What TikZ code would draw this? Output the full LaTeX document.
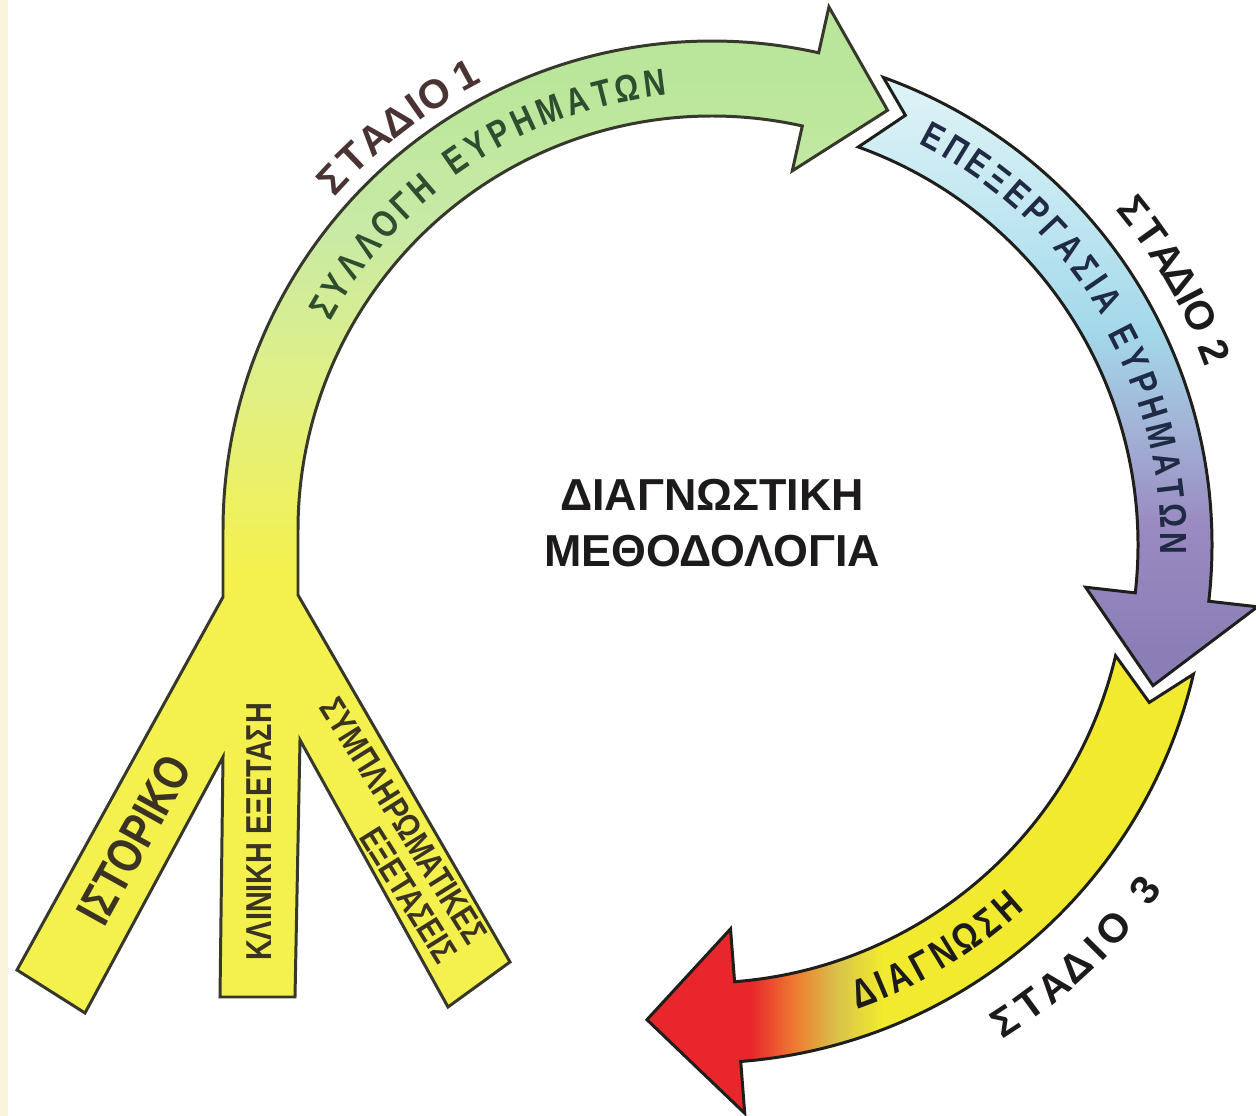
\documentclass[tikz,border=0pt]{standalone}
\usepackage{fontspec}
\setmainfont{Liberation Sans}
\newfontfamily\narrowsf[FakeStretch=0.8]{Liberation Sans}
\usepackage{tikz}
\usetikzlibrary{calc,positioning,shapes,arrows}

% colours
\definecolor{paper}{HTML}{FBF4DC}
\definecolor{outline}{HTML}{1E1E1A}
\definecolor{forkline}{HTML}{35382A}
\definecolor{fyellow}{HTML}{F4F14E}
\definecolor{fyelgreen}{HTML}{E2F082}
\definecolor{fgreen}{HTML}{C8EAA6}
\definecolor{fgreenhead}{HTML}{B9E69A}
\definecolor{bcyan}{HTML}{E0F3F6}
\definecolor{bice}{HTML}{C4E8F2}
\definecolor{bsky}{HTML}{A3D8EA}
\definecolor{bgrey}{HTML}{A2B2D6}
\definecolor{blav}{HTML}{9A8CC2}
\definecolor{bpurple}{HTML}{8B7DB6}
\definecolor{rred}{HTML}{E8262C}
\definecolor{rorange}{HTML}{EE7A32}
\definecolor{rkhaki}{HTML}{D8C44A}
\definecolor{ryellow}{HTML}{F1EA2E}
\definecolor{stagebrown}{HTML}{4A3333}
\definecolor{greentxt}{HTML}{2F4D2F}
\definecolor{navytxt}{HTML}{1F2A44}
\definecolor{blacktxt}{HTML}{1C1A1A}
\definecolor{forktxt}{HTML}{3B3322}

% fades along the three arrows
\pgfdeclareverticalshading{greenfade}{100bp}{color(0bp)=(fyellow); color(47bp)=(fyellow); color(55.5bp)=(fyelgreen); color(64bp)=(fgreen); color(72bp)=(fgreenhead); color(100bp)=(fgreenhead)}
\pgfdeclareverticalshading{bluefade}{100bp}{color(0bp)=(bpurple); color(28bp)=(bpurple); color(38.6bp)=(blav); color(46bp)=(bgrey); color(54bp)=(bsky); color(65bp)=(bice); color(75bp)=(bcyan); color(100bp)=(bcyan)}
\pgfdeclarehorizontalshading{redfade}{100bp}{color(0bp)=(rred); color(34.5bp)=(rred); color(38.5bp)=(rorange); color(42.5bp)=(rkhaki); color(46.5bp)=(ryellow); color(100bp)=(ryellow)}

\tikzset{
  arrowband/.style={line width=1.7pt, draw=outline, line join=miter, shade},
  stagetxt/.style={inner sep=0pt, font=\bfseries\fontsize{23}{27}\selectfont},
  bandtxt/.style={inner sep=0pt, font=\narrowsf\bfseries\fontsize{21.5}{25}\selectfont},
  forklbl/.style={inner sep=0pt, text=forktxt},
}

\begin{document}
\begin{tikzpicture}[x=0.2mm, y=0.2mm]
\fill[white] (0,0) rectangle (1256,1116);
\fill[paper] (0,0) rectangle (8,1116);
\useasboundingbox (0,0) rectangle (1256,1116);

% centres of the three arcs
\coordinate (C1) at (712,586);
\coordinate (C2) at (715,571);
\coordinate (C3) at (702,558);

% stage 1 arrow with its three roots
\draw[arrowband, draw=forkline, shading=greenfade] (223,519) -- (223,586)
  arc[start angle=180, end angle=77.4, radius=489]
  -- ([shift={(77.4:536)}]C1) -- ([shift={(67.3:455)}]C1)
  -- ([shift={(77.4:368)}]C1) -- ([shift={(77.4:414)}]C1)
  arc[start angle=77.4, end angle=180, radius=414]
  -- (298,521) -- (510,154) -- (448,109) -- (300,376) -- (295,119)
  -- (220,119) -- (223,359) -- (85,103) -- (17,146) -- cycle;

% stage 2 arrow
\draw[arrowband, shading=bluefade] ([shift={(70.2:497)}]C2)
  arc[start angle=70.2, end angle=-6.5, radius=497]
  -- ([shift={(-6.5:546)}]C2) -- ([shift={(-17.8:460)}]C2)
  -- ([shift={(-6.5:373)}]C2) -- ([shift={(-6.5:423)}]C2)
  arc[start angle=-6.5, end angle=70.2, radius=423]
  -- ([shift={(66.1:470)}]C2) -- cycle;

% stage 3 arrow
\draw[arrowband, shading=redfade] ([shift={(-13.3:505)}]C3)
  arc[start angle=-13.3, end angle=-85.6, radius=505]
  -- ([shift={(-85.6:557)}]C3) -- ([shift={(-96.8:465)}]C3)
  -- ([shift={(-85.6:372)}]C3) -- ([shift={(-85.6:425)}]C3)
  arc[start angle=-85.6, end angle=-13.3, radius=425]
  -- ([shift={(-17.9:470)}]C3) -- cycle;

% stage labels outside the ring
\foreach \ch/\a [count=\i] in {Σ/137.2,Τ/134,Α/130.8,Δ/127.6,Ι/125.1,Ο/122.5,1/118.4}
  \node[stagetxt, text=stagebrown, rotate=\a-90] (st1-\i) at ([shift={(\a:517)}]C1) {\ch};
\foreach \ch/\a [count=\i] in {Σ/38.6,Τ/35.5,Α/32.5,Δ/29.7,Ι/27.5,Ο/25.3,2/21.1}
  \node[stagetxt, text=blacktxt, rotate=\a-90] (st2-\i) at ([shift={(\a:536)}]C2) {\ch};
\foreach \ch/\a [count=\i] in {Σ/-56.8,Τ/-53.7,Α/-50.6,Δ/-47.5,Ι/-44.8,Ο/-42.0,3/-36.8}
  \node[stagetxt, text=blacktxt, rotate=\a+90] (st3-\i) at ([shift={(\a:554)}]C3) {\ch};

% words inside the bands
\foreach \ch/\a [count=\i] in {Σ/150.2,Υ/147.11,Λ/143.81,Λ/140.4,Ο/136.89,Γ/133.59,Η/130.4}
  \node[bandtxt, text=greentxt, rotate=\a-90] (w1-\i) at ([shift={(\a:448)}]C1) {\ch};
\foreach \ch/\a [count=\i] in {Ε/124.7,Υ/121.44,Ρ/118.18,Η/114.81,Μ/111.12,Α/107.44,Τ/104.17,Ω/100.84,Ν/97.3}
  \node[bandtxt, text=greentxt, rotate=\a-90] (w2-\i) at ([shift={(\a:450)}]C1) {\ch};
\foreach \ch/\a [count=\i] in {Ε/61.8,Π/58.59,Ε/55.38,Ξ/52.28,Ε/49.16,Ρ/46.06,Γ/43.05,Α/39.95,Σ/36.82,Ι/34.51,Α/32.0}
  \node[bandtxt, text=navytxt, rotate=\a-90] (w3-\i) at ([shift={(\a:463)}]C2) {\ch};
\foreach \ch/\a [count=\i] in {Ε/27.0,Υ/23.81,Ρ/20.63,Η/17.34,Μ/13.75,Α/10.15,Τ/6.97,Ω/3.71,Ν/0.25}
  \node[bandtxt, text=navytxt, rotate=\a-90] (w4-\i) at ([shift={(\a:459)}]C2) {\ch};
\foreach \ch/\a [count=\i] in {Δ/-69.6,Ι/-67.17,Α/-64.75,Γ/-61.65,Ν/-58.54,Ω/-55.15,Σ/-51.96,Η/-48.84}
  \node[bandtxt, font=\narrowsf\bfseries\fontsize{23}{26}\selectfont, text=blacktxt, rotate=\a+90] (w5-\i) at ([shift={(\a:463)}]C3) {\ch};

% title in the middle
\node[font=\fontsize{25.5}{31.7}\selectfont\bfseries, text=blacktxt, align=center] (method) at (712,593) {ΔΙΑΓΝΩΣΤΙΚΗ\\ΜΕΘΟΔΟΛΟΓΙΑ};

% roots
\node[forklbl, font=\narrowsf\bfseries\fontsize{28}{32}\selectfont, rotate=61] (hist) at (134,276) {ΙΣΤΟΡΙΚΟ};
\node[forklbl, font=\narrowsf\bfseries\fontsize{20.5}{24}\selectfont, rotate=90] (clin) at (259,284) {ΚΛΙΝΙΚΗ ΕΞΕΤΑΣΗ};
\node[forklbl, font=\narrowsf\bfseries\fontsize{20}{20}\selectfont, rotate=-58, align=right] (extra) at (389,286) {ΣΥΜΠΛΗΡΩΜΑΤΙΚΕΣ\\ΕΞΕΤΑΣΕΙΣ};
\end{tikzpicture}
\end{document}
